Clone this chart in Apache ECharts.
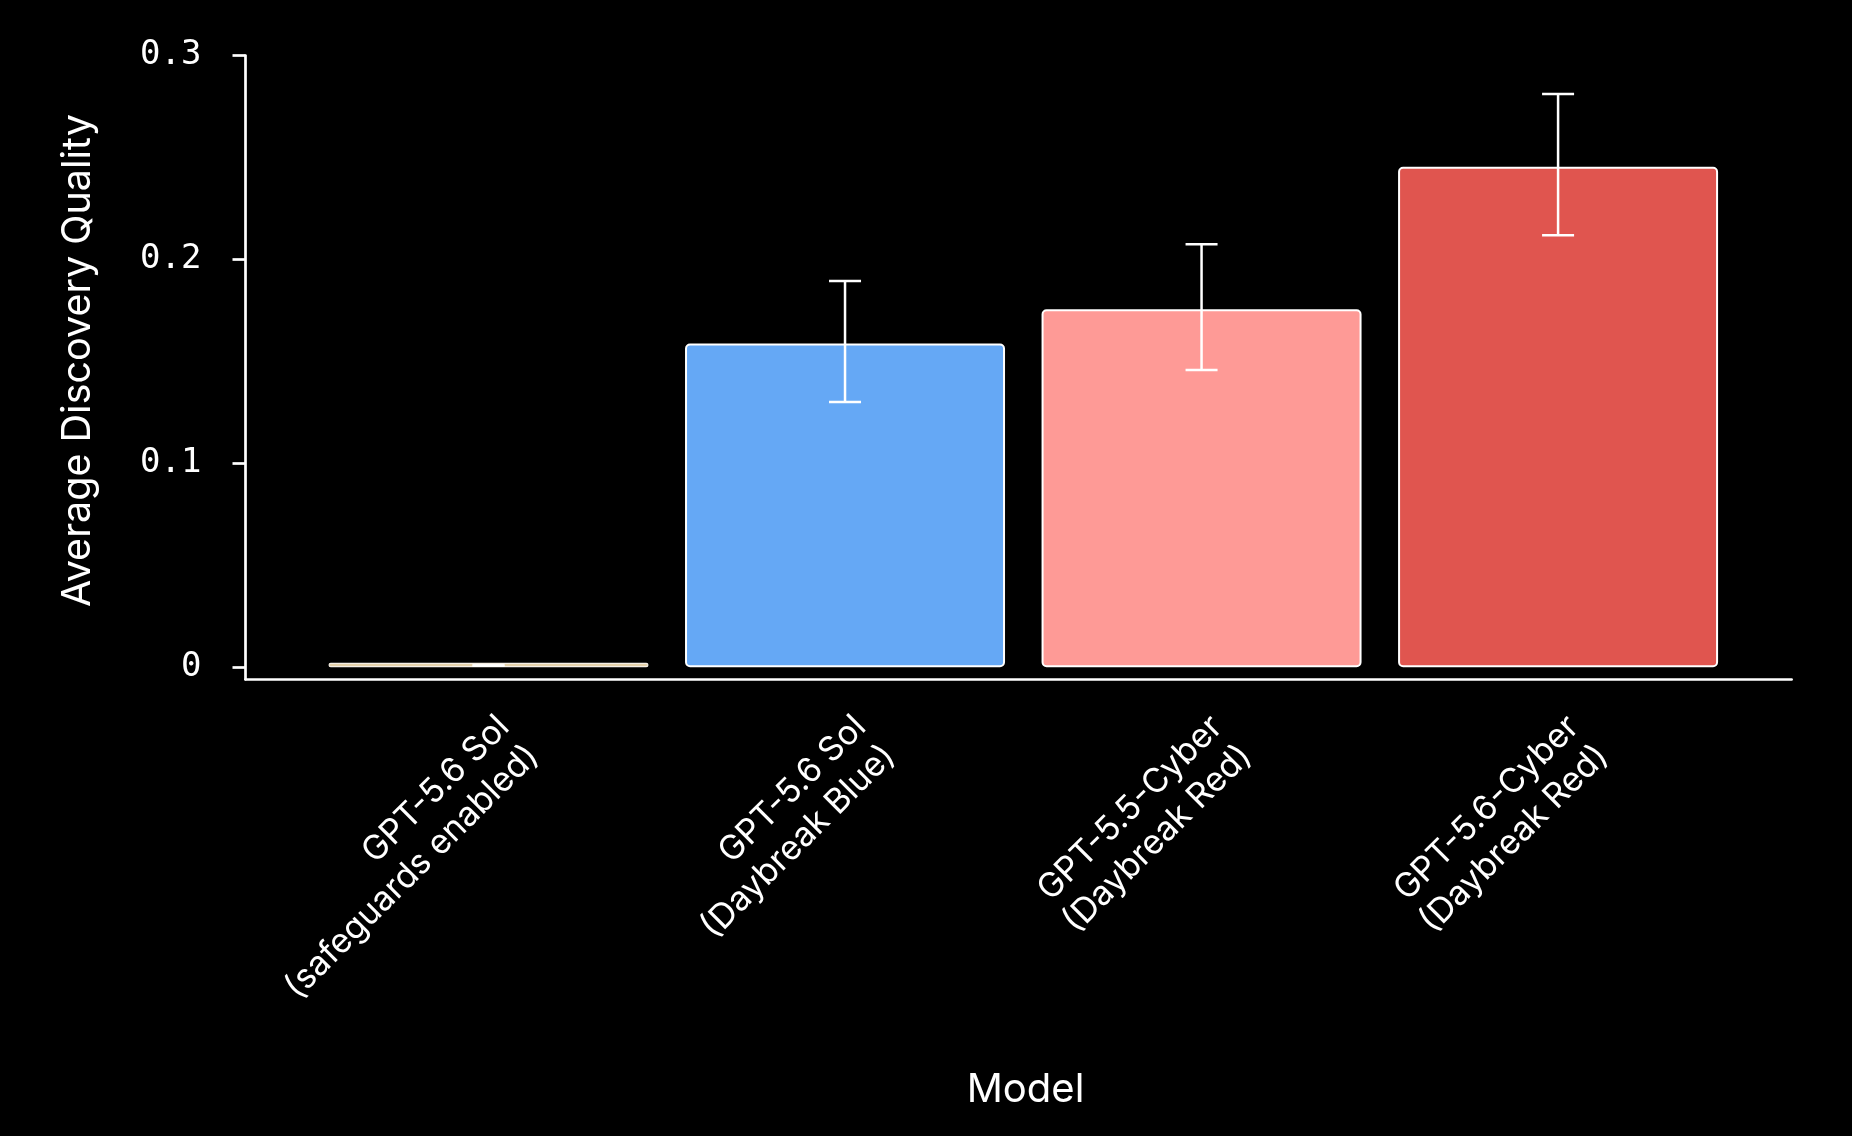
<!DOCTYPE html>
<html>
<head>
<meta charset="utf-8">
<script src="https://cdn.jsdelivr.net/npm/echarts@6/dist/echarts.min.js"></script>
<style>
html,body{margin:0;padding:0;background:#000;}
#chart{width:1852px;height:1136px;}
</style>
</head>
<body>
<div id="chart"></div>
<script>
// ---- data ----
const categories = [
  'GPT-5.6 Sol\n(safeguards enabled)',
  'GPT-5.6 Sol\n(Daybreak Blue)',
  'GPT-5.5-Cyber\n(Daybreak Red)',
  'GPT-5.6-Cyber\n(Daybreak Red)'
];
const values = [0.0022, 0.1588, 0.1756, 0.2455];
const ciLow = [0.0009, 0.1301, 0.1458, 0.2119];
const ciHigh = [0.0009, 0.1895, 0.2075, 0.2812];
const barColors = ['#e6d3ac', '#65a8f5', '#fe9a96', '#e0554f'];
const yTicks = [0, 0.1, 0.2, 0.3];
const yTickLabels = ['0', '0.1', '0.2', '0.3'];
const xTicks = [0, 1, 2, 3];

const chart = echarts.init(document.getElementById('chart'));

const barData = values.map((v, i) => ({
  value: [i, v],
  itemStyle: i === 0
    ? { color: barColors[i], borderColor: '#f4eee4', borderWidth: 1.2 }
    : { color: barColors[i] }
}));
const errData = values.map((v, i) => [i, ciLow[i], ciHigh[i]]);

const option = {
  backgroundColor: '#000',
  animation: false,
  grid: { left: 245.5, right: 60.4, top: 55.6, bottom: 456.7, containLabel: false },
  xAxis: {
    type: 'value',
    min: -0.6816,
    max: 3.655,
    name: 'Model',
    nameLocation: 'middle',
    nameGap: 391,
    nameTextStyle: { color: '#fff', fontFamily: 'Inter', fontSize: 40, verticalAlign: 'top', padding: [0, 0, 0, 14] },
    axisLine: { show: true, onZero: false, lineStyle: { color: '#fff', width: 2.7 } },
    axisTick: { show: false },
    splitLine: { show: false },
    axisLabel: {
      customValues: xTicks,
      formatter: (v) => categories[Math.round(v)],
      rotate: 45,
      align: 'right',
      verticalAlign: 'top',
      margin: 27,
      padding: [1, 0, 0, 0],
      color: '#fff',
      fontFamily: 'Inter',
      fontSize: 34,
      lineHeight: 41
    }
  },
  yAxis: {
    type: 'value',
    min: -0.00589,
    max: 0.3,
    name: 'Average Discovery Quality',
    nameLocation: 'middle',
    nameGap: 147,
    nameRotate: 90,
    nameTextStyle: { color: '#fff', fontFamily: 'Inter', fontSize: 39.5, padding: [0, 0, 0, 14] },
    axisLine: { show: true, onZero: false, lineStyle: { color: '#fff', width: 2.7 } },
    axisTick: { show: true, customValues: yTicks, length: 13, lineStyle: { color: '#fff', width: 2.7 } },
    splitLine: { show: false },
    axisLabel: {
      customValues: yTicks,
      formatter: (v) => {
        const k = yTicks.findIndex(t => Math.abs(t - v) < 1e-9);
        return k >= 0 ? yTickLabels[k] : '';
      },
      margin: 44,
      color: '#fff',
      fontFamily: 'DejaVu Sans Mono',
      fontSize: 34
    }
  },
  series: [
    {
      type: 'bar',
      data: barData,
      barWidth: 320,
      itemStyle: { borderColor: '#fff', borderWidth: 2, borderRadius: 4 }
    },
    {
      type: 'custom',
      data: errData,
      z: 10,
      renderItem: (params, api) => {
        const x = api.value(0);
        const lo = api.coord([x, api.value(1)]);
        const hi = api.coord([x, api.value(2)]);
        const hw = 16;
        const style = { stroke: '#fff', lineWidth: 2.5 };
        return {
          type: 'group',
          children: [
            { type: 'line', shape: { x1: lo[0], y1: lo[1], x2: hi[0], y2: hi[1] }, style },
            { type: 'line', shape: { x1: lo[0] - hw, y1: lo[1], x2: lo[0] + hw, y2: lo[1] }, style },
            { type: 'line', shape: { x1: hi[0] - hw, y1: hi[1], x2: hi[0] + hw, y2: hi[1] }, style }
          ]
        };
      }
    }
  ]
};
chart.setOption(option);
</script>
</body>
</html>
